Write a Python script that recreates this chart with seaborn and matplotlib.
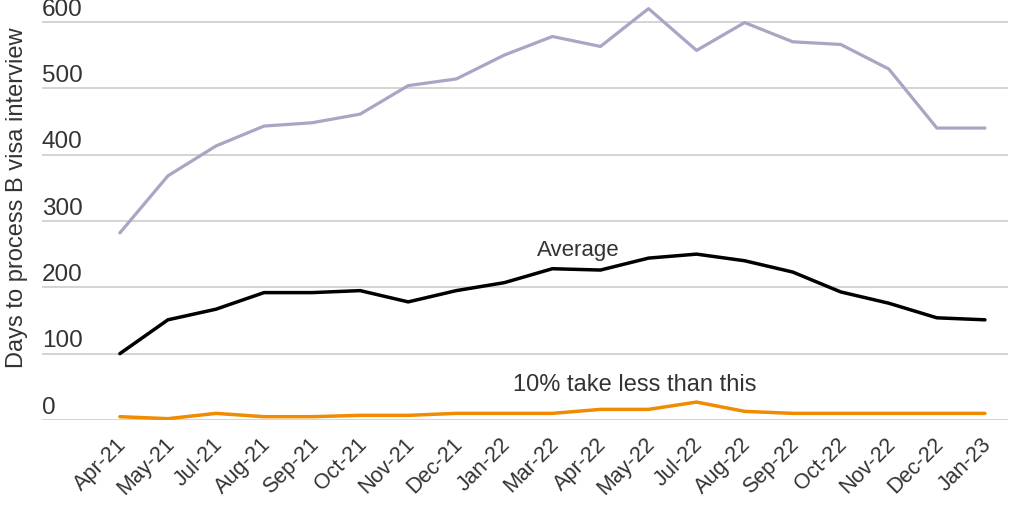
#!/usr/bin/env python3
# -*- coding: utf-8 -*-

import seaborn as sns
import matplotlib.pyplot as plt
import matplotlib.transforms as mtransforms
import pandas as pd

months = ["Apr-21", "May-21", "Jul-21", "Aug-21", "Sep-21", "Oct-21", "Nov-21",
          "Dec-21", "Jan-22", "Mar-22", "Apr-22", "May-22", "Jul-22", "Aug-22",
          "Sep-22", "Oct-22", "Nov-22", "Dec-22", "Jan-23"]

# 90% take less than this (top line)
top_days = [282, 368, 413, 443, 448, 461, 504, 514, 550, 578, 563, 620, 557,
            599, 570, 566, 529, 440, 440]
average_days = [100, 151, 167, 192, 192, 195, 178, 195, 207, 228, 226, 244, 250,
                240, 223, 193, 176, 154, 151]
low_days = [5, 2, 10, 5, 5, 7, 7, 10, 10, 10, 16, 16, 27, 13, 10, 10, 10, 10, 10]

y_ticks = [0, 100, 200, 300, 400, 500, 600]

purple = "#a9a5c4"
orange = "#ef8c00"
text_col = "#333333"


def plot_visa_wait(outfile):
    sns.set_theme(style="white")
    plt.rcParams['font.family'] = ['Liberation Sans', 'DejaVu Sans']

    data = pd.DataFrame({"month": months, "top": top_days,
                         "avg": average_days, "low": low_days})
    data["pos"] = range(len(months))

    fig = plt.figure(figsize=(10.24, 5.12), dpi=100)
    ax = fig.add_axes([42 / 1024, 1 - 420 / 512, 966 / 1024, 420 / 512])

    sns.lineplot(data=data, x="pos", y="top", color=purple, linewidth=2.3, ax=ax)
    sns.lineplot(data=data, x="pos", y="avg", color="black", linewidth=2.5, ax=ax)
    sns.lineplot(data=data, x="pos", y="low", color=orange, linewidth=2.5, ax=ax)

    ax.set_xlim(-1.62, 18.48)
    ax.set_ylim(0, 633)

    ax.set_yticks(y_ticks)
    ax.set_yticklabels([str(v) for v in y_ticks])
    ax.yaxis.grid(True, color="#d4d4d4", linewidth=1.4)
    ax.set_axisbelow(True)
    ax.tick_params(axis="y", length=0, pad=0, labelsize=17.5, labelcolor=text_col)
    for lbl in ax.get_yticklabels():
        lbl.set_horizontalalignment("left")
        lbl.set_verticalalignment("bottom")
        lbl.set_transform(lbl.get_transform() + mtransforms.ScaledTranslation(0, 1 / 72, fig.dpi_scale_trans))

    ax.set_xticks(range(len(months)))
    ax.set_xticklabels(months, rotation=45, ha="right", rotation_mode="anchor")
    ax.tick_params(axis="x", length=0, pad=10, labelsize=15.5, labelcolor=text_col)
    for lbl in ax.get_xticklabels():
        lbl.set_transform(lbl.get_transform() + mtransforms.ScaledTranslation(-3 / 72, 0, fig.dpi_scale_trans))

    for s in ax.spines.values():
        s.set_visible(False)

    ax.set_xlabel("")
    ax.set_ylabel("")
    fig.text(17 / 1024, 1 - 368 / 512, "Days to process B visa interview",
             rotation=90, ha="center", va="bottom", fontsize=17, color=text_col)

    ax.text(9.53, 256, "Average", ha="center", va="center", fontsize=16, color=text_col)
    ax.text(10.72, 53, "10% take less than this", ha="center", va="center",
            fontsize=17, color=text_col)

    plt.savefig(outfile, dpi=100)


if __name__ == '__main__':
    plot_visa_wait("out.png")
